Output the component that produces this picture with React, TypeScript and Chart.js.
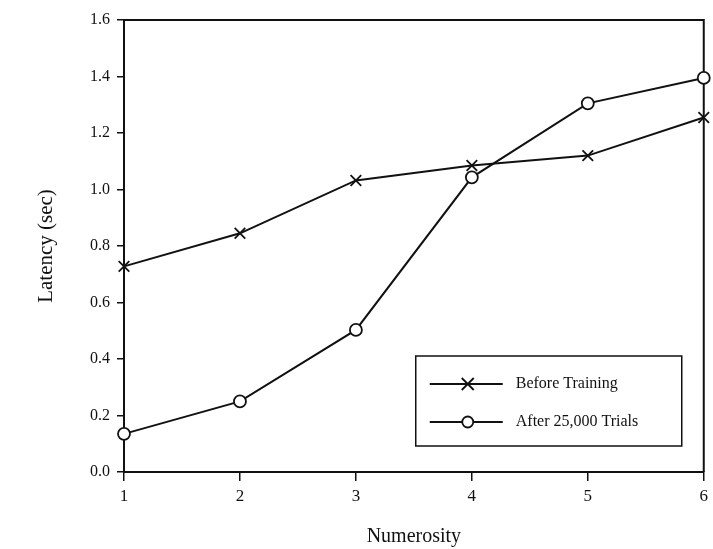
import React, { useEffect, useRef } from "react";
import { Chart, registerables } from "chart.js";

Chart.register(...registerables);

const numerosity = [1, 2, 3, 4, 5, 6];
const beforeTraining = [0.728, 0.845, 1.032, 1.085, 1.12, 1.255];
const afterTrials = [0.135, 0.25, 0.503, 1.043, 1.305, 1.395];
const seriesLabels = ["Before Training", "After 25,000 Trials"];
const yTicks = [0, 0.2, 0.4, 0.6, 0.8, 1.0, 1.2, 1.4, 1.6];

const INK = "#111";
const FONT = "'Liberation Serif', 'DejaVu Serif', serif";

const framePlugin = {
  id: "frame",
  beforeDatasetsDraw(chart: any) {
    const { ctx, chartArea } = chart;
    ctx.save();
    ctx.strokeStyle = INK;
    ctx.lineWidth = 2;
    ctx.beginPath();
    ctx.moveTo(chartArea.left, chartArea.top);
    ctx.lineTo(chartArea.right, chartArea.top);
    ctx.lineTo(chartArea.right, chartArea.bottom);
    ctx.stroke();
    ctx.restore();
  },
};

function drawMarker(ctx: CanvasRenderingContext2D, style: string, x: number, y: number, r: number) {
  ctx.beginPath();
  if (style === "crossRot") {
    ctx.moveTo(x - r, y - r);
    ctx.lineTo(x + r, y + r);
    ctx.moveTo(x + r, y - r);
    ctx.lineTo(x - r, y + r);
    ctx.stroke();
  } else {
    ctx.arc(x, y, r, 0, Math.PI * 2);
    ctx.fillStyle = "#fff";
    ctx.fill();
    ctx.stroke();
  }
}

const legendPlugin = {
  id: "boxLegend",
  afterDraw(chart: any) {
    const { ctx, chartArea } = chart;
    const right = chartArea.right - 22;
    const bottom = chartArea.bottom - 26;
    const w = 266;
    const h = 90;
    const left = right - w;
    const top = bottom - h;
    ctx.save();
    ctx.fillStyle = "#fff";
    ctx.fillRect(left, top, w, h);
    ctx.strokeStyle = INK;
    ctx.lineWidth = 1.5;
    ctx.strokeRect(left, top, w, h);
    const rows = [top + 28, top + 66];
    chart.data.datasets.forEach((ds: any, i: number) => {
      const y = rows[i];
      ctx.strokeStyle = INK;
      ctx.lineWidth = 1.8;
      ctx.beginPath();
      ctx.moveTo(left + 14, y);
      ctx.lineTo(left + 87, y);
      ctx.stroke();
      drawMarker(ctx, ds.pointStyle, left + 52, y, ds.pointStyle === "circle" ? 5.5 : 6);
      ctx.fillStyle = INK;
      ctx.font = `16px ${FONT}`;
      ctx.textAlign = "left";
      ctx.textBaseline = "middle";
      ctx.fillText(ds.label, left + 100, y);
    });
    ctx.restore();
  },
};

export default function App() {
  const ref = useRef<HTMLCanvasElement>(null);
  useEffect(() => {
    if (!ref.current) return;
    const chart = new Chart(ref.current, {
      type: "line",
      data: {
        datasets: [
          {
            label: seriesLabels[0],
            data: numerosity.map((n, i) => ({ x: n, y: beforeTraining[i] })),
            borderColor: INK,
            borderWidth: 2,
            pointStyle: "crossRot",
            pointRadius: 7.5,
            pointBorderWidth: 1.8,
            pointBorderColor: INK,
            pointBackgroundColor: "#fff",
            tension: 0,
            clip: false,
          },
          {
            label: seriesLabels[1],
            data: numerosity.map((n, i) => ({ x: n, y: afterTrials[i] })),
            borderColor: INK,
            borderWidth: 2,
            pointStyle: "circle",
            pointRadius: 6,
            pointBorderWidth: 1.8,
            pointBorderColor: INK,
            pointBackgroundColor: "#fff",
            tension: 0,
            clip: false,
          },
        ],
      },
      options: {
        animation: false,
        responsive: true,
        maintainAspectRatio: false,
        layout: { autoPadding: false, padding: { top: 20, right: 7, left: 0, bottom: 0 } },
        plugins: { legend: { display: false }, tooltip: { enabled: false } },
        scales: {
          x: {
            type: "linear",
            min: 1,
            max: 6,
            afterFit: (s: any) => {
              s.height = 77;
            },
            afterBuildTicks: (s: any) => {
              s.ticks = numerosity.map((v) => ({ value: v }));
            },
            ticks: {
              color: INK,
              font: { family: FONT, size: 17 },
              padding: 5,
              callback: (v: any) => String(v),
            },
            grid: { drawOnChartArea: false, drawTicks: true, tickLength: 9, color: INK, lineWidth: 1.5 },
            border: { display: true, color: INK, width: 2 },
            title: {
              display: true,
              text: "Numerosity",
              color: INK,
              font: { family: FONT, size: 20 },
              padding: { top: 3, bottom: 0 },
            },
          },
          y: {
            min: 0,
            max: 1.6,
            afterFit: (s: any) => {
              s.width = 124;
            },
            afterBuildTicks: (s: any) => {
              s.ticks = yTicks.map((v) => ({ value: v }));
            },
            ticks: {
              color: INK,
              font: { family: FONT, size: 16 },
              padding: 7,
              callback: (v: any) => Number(v).toFixed(1),
            },
            grid: { drawOnChartArea: false, drawTicks: true, tickLength: 7, color: INK, lineWidth: 1.5 },
            border: { display: true, color: INK, width: 2 },
            title: {
              display: true,
              text: "Latency (sec)",
              color: INK,
              font: { family: FONT, size: 21 },
              padding: { top: 34, bottom: 0 },
            },
          },
        },
      },
      plugins: [framePlugin, legendPlugin],
    });
    return () => chart.destroy();
  }, []);
  return (
    <div style={{ position: "absolute", left: 0, top: 0, width: 713, height: 549, background: "#fff" }}>
      <canvas ref={ref} />
    </div>
  );
}
